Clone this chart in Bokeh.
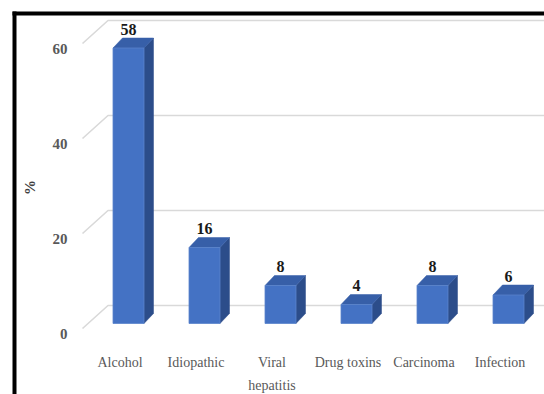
from math import pi

from bokeh.plotting import figure
from bokeh.models import Range1d, ColumnDataSource
from bokeh.core.properties import value
from bokeh.embed import file_html
from bokeh.resources import INLINE

# Data
categories = ["Alcohol", "Idiopathic", "Viral\nhepatitis", "Drug toxins", "Carcinoma", "Infection"]
percent = [58, 16, 8, 4, 8, 6]
y_ticks = [0, 20, 40, 60]
y_title = "%"

W, H = 544, 394
SLOT = 76.0      # pixels between bar centres
UNIT = 4.75      # pixels per percentage point
X0, Y0 = 128.0, 323.0  # pixel position of first bar's front-bottom centre


def px_x(px):
    return (px - X0) / SLOT


def px_y(py):
    return (Y0 - py) / UNIT


p = figure(
    width=W, height=H, output_backend="svg", toolbar_location=None,
    x_range=Range1d(px_x(0), px_x(W)), y_range=Range1d(px_y(H), px_y(0)),
    min_border=0, min_border_left=0, min_border_right=0,
    min_border_top=0, min_border_bottom=0,
)
p.axis.visible = False
p.grid.visible = False
p.outline_line_color = None
p.background_fill_color = "white"
p.border_fill_color = "white"

SERIF = value("Liberation Serif")

# 3-D frame geometry (in data units)
front_dx = px_x(82)          # left end of the side-wall gridline
back_dx = px_x(107.5)        # back-wall corner
front_dy = -5 / UNIT          # floor front edge sits slightly below bar fronts
back_dy = 18 / UNIT

# Gridlines: slanted side-wall part + horizontal back-wall part
gx, gy = [], []
for g in y_ticks:
    gx.append([front_dx, back_dx, px_x(W)])
    gy.append([g + front_dy, g + back_dy, g + back_dy])
p.multi_line(gx, gy, line_color="#D9D9D9", line_width=1.6)

# Bars as 3-D prisms
bw = 31 / SLOT
ddx = 9.5 / SLOT
ddy = 10 / UNIT
xs_front, ys_front, xs_side, ys_side, xs_top, ys_top = [], [], [], [], [], []
for i, v in enumerate(percent):
    l, r = i - bw / 2, i + bw / 2
    xs_front.append([l, r, r, l])
    ys_front.append([0, 0, v, v])
    xs_side.append([r, r + ddx, r + ddx, r])
    ys_side.append([0, ddy, v + ddy, v])
    xs_top.append([l, r, r + ddx, l + ddx])
    ys_top.append([v, v, v + ddy, v + ddy])

p.patches(xs_side, ys_side, fill_color="#2C4D8A", line_color="#2C4D8A", line_width=0.5)
p.patches(xs_top, ys_top, fill_color="#375FA8", line_color="#375FA8", line_width=0.5)
p.patches(xs_front, ys_front, fill_color="#4472C4", line_color="#5A84CC", line_width=0.8)

idx = list(range(len(categories)))

# Value labels above bars
p.text(
    x=idx, y=[v + 4.0 for v in percent], text=[str(v) for v in percent],
    text_font=SERIF, text_font_size="16px", text_font_style="bold",
    text_color="#1A1A1A", text_align="center", text_baseline="middle",
)

# Category labels along the floor
p.text(
    x=[i - 8.5 / SLOT for i in idx], y=[px_y(354)] * len(idx), text=categories,
    text_font=SERIF, text_font_size="14px", text_color="#595959",
    text_align="center", text_baseline="top", text_line_height=1.55,
)

# Value-axis tick labels
p.text(
    x=[px_x(67)] * len(y_ticks), y=[g + front_dy - 5 / UNIT for g in y_ticks],
    text=[str(g) for g in y_ticks],
    text_font=SERIF, text_font_size="15px", text_font_style="bold",
    text_color="#595959", text_align="right", text_baseline="middle",
)

# Axis title
p.text(
    x=[px_x(29)], y=[px_y(187)], text=[y_title], angle=pi / 2,
    text_font=SERIF, text_font_size="15px", text_font_style="bold",
    text_color="#404040", text_align="center", text_baseline="middle",
)

# Black frame on the top and left edges
p.line([px_x(12), px_x(W)], [px_y(13), px_y(13)], line_color="black", line_width=4)
p.line([px_x(14), px_x(14)], [px_y(11), px_y(H)], line_color="black", line_width=4)

open("out.html", "w").write(file_html(p, INLINE))
